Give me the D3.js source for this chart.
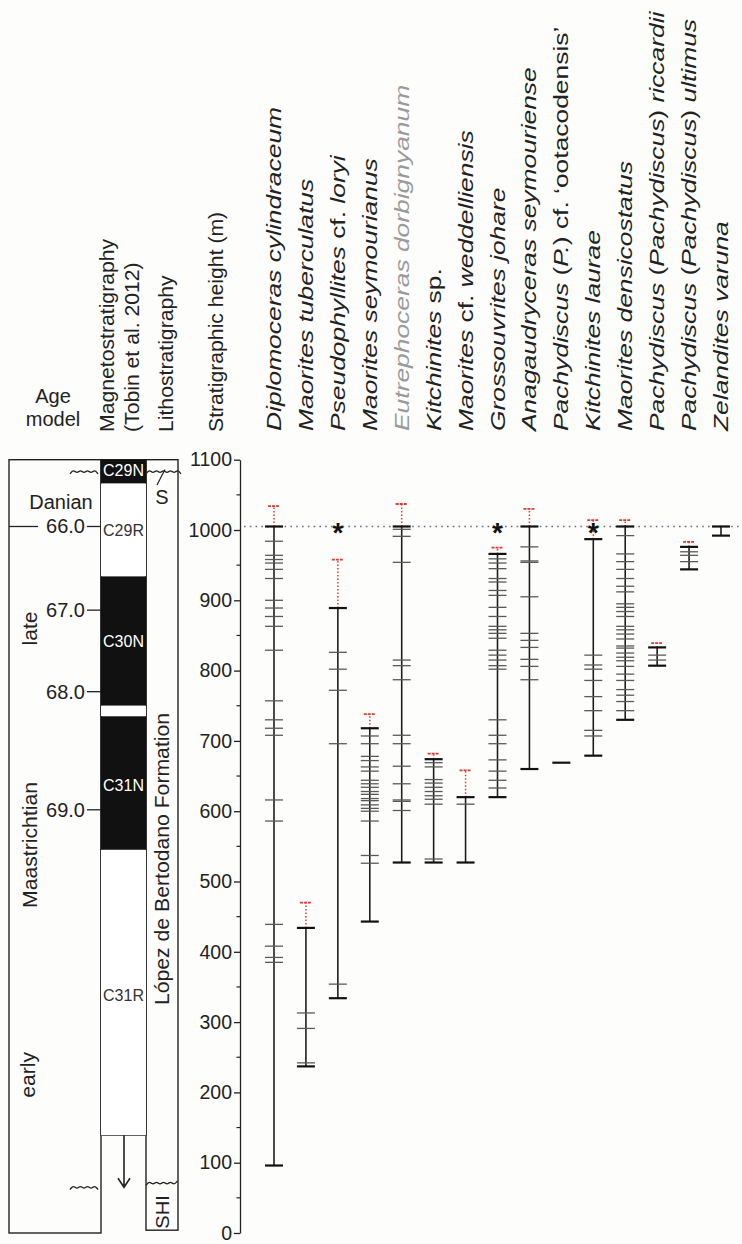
<!DOCTYPE html>
<html>
<head>
<meta charset="utf-8">
<script src="https://cdn.jsdelivr.net/npm/d3@7"></script>
<style>
  body { margin: 0; background: #fdfdfb; }
  svg { display: block; font-family: "Liberation Sans", Arial, sans-serif; }
</style>
</head>
<body>
<script>
// species names, {..} marks upright (non-italic) parts
const species = [
  "Diplomoceras cylindraceum",
  "Maorites tuberculatus",
  "Pseudophyllites {cf.} loryi",
  "Maorites seymourianus",
  "Eutrephoceras dorbignyanum",
  "Kitchinites {sp.}",
  "Maorites {cf.} weddelliensis",
  "Grossouvrites johare",
  "Anagaudryceras seymouriense",
  "Pachydiscus {(}P.{) cf. ‘ootacodensis’}",
  "Kitchinites laurae",
  "Maorites densicostatus",
  "Pachydiscus {(}Pachydiscus{)} riccardii",
  "Pachydiscus {(}Pachydiscus{)} ultimus",
  "Zelandites varuna"
];
const greyed = [false, false, false, false, true, false, false, false, false, false, false, false, false, false, false];

// occurrence heights (m)
const occurrences = [
  [1005, 984, 964, 958, 953, 944, 931, 900, 889, 877, 863, 829, 757, 730, 718, 708, 616, 586, 439, 408, 392, 385, 96],
  [434, 313, 291, 242, 237],
  [889, 826, 802, 772, 696, 354, 334],
  [718, 707, 696, 678, 672, 663, 657, 644, 639, 634, 628, 624, 618, 615, 609, 604, 600, 586, 537, 526, 443],
  [1005, 1001, 991, 954, 815, 807, 787, 708, 696, 664, 639, 616, 614, 601, 527],
  [674, 669, 663, 645, 640, 634, 628, 622, 617, 610, 532, 527],
  [620, 610, 527],
  [966, 959, 953, 945, 931, 926, 914, 907, 890, 877, 863, 858, 853, 846, 829, 822, 815, 807, 802, 730, 708, 696, 673, 657, 644, 633, 620],
  [1005, 976, 956, 954, 905, 853, 843, 833, 816, 806, 787, 660],
  [669],
  [987, 822, 808, 802, 786, 763, 743, 715, 707, 679],
  [1005, 992, 966, 955, 944, 931, 920, 912, 895, 890, 884, 877, 863, 858, 852, 845, 835, 832, 825, 819, 814, 806, 795, 786, 773, 765, 756, 743, 730],
  [833, 822, 815, 807],
  [976, 969, 964, 955, 944],
  [1005, 992]
];
// range extensions (red dotted)
const extendedTo = [1034, 470, 958, 738, 1037, 682, 658, 975, 1030, null, 1014, 1014, 839, 983, null];
const asterisk = [false, false, true, false, false, false, false, true, false, false, true, false, false, false, false];

const kpg = 1005;
const heightTicks = d3.range(0, 1101, 100);

// age model
const ageLabels = ["66.0", "67.0", "68.0", "69.0"];
const ageHeights = [1005, 886, 770, 602];

// magnetostratigraphy
const chronNames = ["C29N", "C29R", "C30N", "", "C31N", "C31R"];
const chronTop = [1100, 1066, 934, 750, 735, 545];
const chronBase = [1066, 934, 750, 735, 545, 139];
const chronNormal = [true, false, true, false, true, false];
const chronLabelAt = [1085, 1000, 842, null, 637, 339];

const W = 742, H = 1244;
const svg = d3.select("body").append("svg").attr("width", W).attr("height", H);

const y = d3.scaleLinear().domain([0, 1100]).range([1233, 459.7]);
const x = d3.scalePoint().domain(d3.range(species.length)).range([274, 721]);

const ink = "#222";

// ---- headers
const header = (txt, bx, by, sx) =>
  svg.append("text")
    .attr("transform", `translate(${bx},${by}) rotate(-90) scale(${sx},1)`)
    .attr("font-size", 20).attr("fill", ink).text(txt);

header("Magnetostratigraphy", 114, 432, 1.06);
header("(Tobin et al. 2012)", 139, 432, 1.06);
header("Lithostratigraphy", 173, 432, 1.06);
header("Stratigraphic height (m)", 223, 432, 1.06);

svg.append("text").attr("x", 53).attr("y", 403).attr("text-anchor", "middle")
  .attr("font-size", 20).attr("fill", ink).text("Age");
svg.append("text").attr("x", 53).attr("y", 426).attr("text-anchor", "middle")
  .attr("font-size", 20).attr("fill", ink).text("model");

// species labels
species.forEach((name, i) => {
  const t = svg.append("text")
    .attr("transform", `translate(${x(i) + 7},431) rotate(-90) scale(1.32,1)`)
    .attr("font-size", 20)
    .attr("fill", greyed[i] ? "#9a9a9a" : ink);
  name.split(/(\{[^}]*\})/).filter(s => s.length).forEach(s => {
    const upright = s.startsWith("{");
    t.append("tspan")
      .attr("font-style", upright ? "normal" : "italic")
      .text(upright ? s.slice(1, -1) : s);
  });
});

// ---- axis
const axis = svg.append("g").attr("transform", "translate(240,0)")
  .call(d3.axisLeft(y).tickValues(heightTicks).tickFormat(d3.format("d"))
    .tickSize(6).tickSizeOuter(0).tickPadding(2));
axis.selectAll("text").attr("font-size", 19.5).attr("fill", ink).attr("font-family", "Liberation Sans, Arial, sans-serif");
axis.selectAll("line, path").attr("stroke", ink).attr("stroke-width", 1.3);
svg.append("g").selectAll("line").data(d3.range(50, 1100, 100)).join("line")
  .attr("x1", 236.5).attr("x2", 240).attr("y1", d => y(d)).attr("y2", d => y(d))
  .attr("stroke", ink).attr("stroke-width", 1.2);

// ---- K/Pg dotted line
svg.append("line").attr("x1", 244).attr("x2", W).attr("y1", y(kpg)).attr("y2", y(kpg))
  .attr("stroke", "#6a6f80").attr("stroke-width", 1.6).attr("stroke-dasharray", "1.6,4.2");

// ---- left columns
const box = svg.append("g").attr("fill", "none").attr("stroke", ink).attr("stroke-width", 1.4);
// chrons
svg.append("g").selectAll("rect").data(chronTop).join("rect")
  .attr("x", 101).attr("width", 45)
  .attr("y", d => y(d)).attr("height", (d, i) => y(chronBase[i]) - y(d))
  .attr("fill", (d, i) => chronNormal[i] ? "#111" : "#fff");
box.append("rect").attr("x", 9).attr("y", y(1100)).attr("width", 92).attr("height", y(0) - y(1100));
box.append("rect").attr("x", 101).attr("y", y(1100)).attr("width", 45).attr("height", y(139) - y(1100));
box.append("rect").attr("x", 146).attr("y", y(1100)).attr("width", 32).attr("height", y(4) - y(1100));

chronNames.forEach((name, i) => {
  if (!name) return;
  svg.append("text").attr("x", 123.5).attr("y", y(chronLabelAt[i]) + 6)
    .attr("text-anchor", "middle").attr("font-size", 16)
    .attr("fill", chronNormal[i] ? "#fff" : "#333").text(name);
});

// arrow below magneto column
svg.append("path")
  .attr("d", `M124,${y(139)}V${y(65)} M118,${y(65) - 9}L124,${y(65)}L130,${y(65) - 9}`)
  .attr("fill", "none").attr("stroke", ink).attr("stroke-width", 1.6);

// wavy unconformities
const wave = (x0, x1, yc) => d3.line().curve(d3.curveBasis)(
  d3.range(x0, x1 + 0.1, 3.5).map((px, k) => [px, yc + (k % 2 ? -2.2 : 2.2)]));
[[70, 101, 1083], [146, 181, 1083], [70, 101, 65], [146, 178, 71]].forEach(([a, b, h]) =>
  svg.append("path").attr("d", wave(a, b, y(h))).attr("fill", "none").attr("stroke", ink).attr("stroke-width", 1.3));
svg.append("line").attr("x1", 165).attr("y1", y(1086)).attr("x2", 157).attr("y2", y(1064))
  .attr("stroke", ink).attr("stroke-width", 1.2);

// age ties
ageHeights.forEach((h, i) => {
  svg.append("line").attr("x1", 87).attr("x2", 101).attr("y1", y(h)).attr("y2", y(h))
    .attr("stroke", ink).attr("stroke-width", 1.3);
  svg.append("text").attr("x", 85).attr("y", y(h) + 7).attr("text-anchor", "end")
    .attr("font-size", 20).attr("fill", ink).text(ageLabels[i]);
});
svg.append("line").attr("x1", 9).attr("x2", 38).attr("y1", y(kpg)).attr("y2", y(kpg))
  .attr("stroke", ink).attr("stroke-width", 1.3);

svg.append("text").attr("x", 61).attr("y", y(1040) + 7).attr("text-anchor", "middle")
  .attr("font-size", 20).attr("fill", ink).text("Danian");
const vlabel = (txt, bx, h, size) => svg.append("text")
  .attr("transform", `translate(${bx},${y(h)}) rotate(-90) scale(1.06,1)`)
  .attr("text-anchor", "middle").attr("font-size", size).attr("fill", ink).text(txt);
vlabel("late", 37, 860, 20);
vlabel("Maastrichtian", 37, 552, 20);
vlabel("early", 35, 225, 20);
svg.append("text").attr("x", 162).attr("y", y(1047) + 7).attr("text-anchor", "middle")
  .attr("font-size", 20).attr("fill", ink).text("S");
vlabel("López de Bertodano Formation", 169, 532, 20);
vlabel("SHI", 169, 30, 19);

// ---- ranges
species.forEach((name, i) => {
  const occ = occurrences[i];
  const cx = x(i);
  const lo = d3.min(occ), hi = d3.max(occ);
  const g = svg.append("g");
  if (extendedTo[i] != null) {
    g.append("line").attr("x1", cx).attr("x2", cx).attr("y1", y(hi)).attr("y2", y(extendedTo[i]))
      .attr("stroke", "#e0392f").attr("stroke-width", 1.5).attr("stroke-dasharray", "1.5,2");
    g.append("line").attr("x1", cx - 6).attr("x2", cx + 6)
      .attr("y1", y(extendedTo[i])).attr("y2", y(extendedTo[i]))
      .attr("stroke", "#e0392f").attr("stroke-width", 1.8).attr("stroke-dasharray", "3,1");
  }
  if (occ.length > 1) {
    g.append("line").attr("x1", cx).attr("x2", cx).attr("y1", y(lo)).attr("y2", y(hi))
      .attr("stroke", "#1e1e1e").attr("stroke-width", 1.6);
  }
  g.selectAll("line.tick").data(occ).join("line").attr("class", "tick")
    .attr("x1", cx - 9).attr("x2", cx + 9).attr("y1", d => y(d)).attr("y2", d => y(d))
    .attr("stroke", d => (d === lo || d === hi) ? "#111" : "#5a5a5a")
    .attr("stroke-width", d => (d === lo || d === hi) ? 2.2 : 1.3);
  if (asterisk[i]) {
    g.append("text").attr("x", cx).attr("y", y(kpg) + 16).attr("text-anchor", "middle")
      .attr("font-size", 28).attr("font-weight", "bold").attr("fill", "#111").text("*");
  }
});
</script>
</body>
</html>
